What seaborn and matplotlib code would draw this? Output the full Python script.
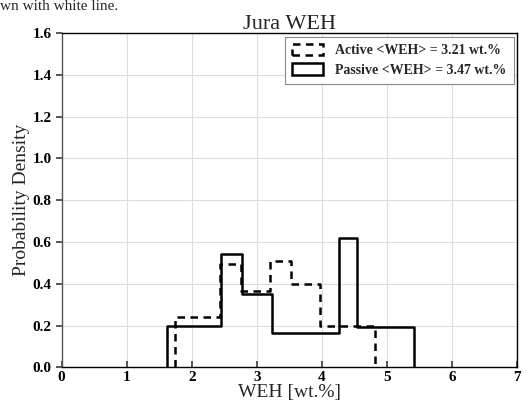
import numpy as np
import pandas as pd
import matplotlib
matplotlib.use("Agg")
import matplotlib.pyplot as plt
import seaborn as sns
from matplotlib.patches import Patch

# Bin edges and densities
active_edges = [1.745, 2.43, 2.76, 3.21, 3.53, 3.97, 4.82]
active_density = [0.242, 0.495, 0.365, 0.506, 0.399, 0.197]
passive_edges = [1.62, 2.457, 2.77, 3.23, 4.27, 4.535, 5.42]
passive_density = [0.198, 0.541, 0.350, 0.163, 0.621, 0.192]

active_label = "Active <WEH> = 3.21 wt.%"
passive_label = "Passive <WEH> = 3.47 wt.%"
title = "Jura WEH"
xlabel = "WEH [wt.%]"
ylabel = "Probability Density"
caption_fragment = "wn with white line."
xticks = [0, 1, 2, 3, 4, 5, 6, 7]
yticks = [0.0, 0.2, 0.4, 0.6, 0.8, 1.0, 1.2, 1.4, 1.6]


def make_frame(edges, dens):
    e = np.asarray(edges)
    d = np.asarray(dens)
    mids = (e[:-1] + e[1:]) / 2
    w = d * np.diff(e)
    return pd.DataFrame({"x": mids, "w": w})


def closed_bins(edges, eps=1e-6):
    # add empty zero-width bins so the outline drops to the baseline at both ends
    return [edges[0] - eps] + list(edges) + [edges[-1] + eps]


sns.set_theme(style="whitegrid")
plt.rcParams["font.family"] = ["Liberation Serif", "DejaVu Serif"]

fig = plt.figure(figsize=(5.26, 4.15), dpi=100)
ax = fig.add_axes([0.117, 0.115, 0.866, 0.805])

dfa = make_frame(active_edges, active_density)
dfp = make_frame(passive_edges, passive_density)

dash = (0, (3.0, 2.2))
sns.histplot(data=dfa, x="x", weights="w", bins=closed_bins(active_edges), stat="density",
             element="step", fill=False, color="black", linewidth=1.8,
             linestyle=dash, ax=ax)
sns.histplot(data=dfp, x="x", weights="w", bins=closed_bins(passive_edges), stat="density",
             element="step", fill=False, color="black", linewidth=1.8,
             ax=ax)

ax.set_xlim(0, 7)
ax.set_ylim(0, 1.6)
ax.set_xticks(xticks)
ax.set_yticks(yticks)
ax.set_xticklabels([str(t) for t in xticks], fontweight="bold", fontsize=11)
ax.set_yticklabels([f"{t:.1f}" for t in yticks], fontweight="bold", fontsize=11)
ax.set_xlabel(xlabel, fontsize=14, labelpad=0)
ax.set_ylabel(ylabel, fontsize=14, labelpad=2)
ax.set_title(title, fontsize=16, pad=3)

ax.grid(True, color="#dddddd", linewidth=0.8)
for s in ax.spines.values():
    s.set_visible(True)
    s.set_color("black")
    s.set_linewidth(1.0)
ax.spines["left"].set_color("#555555")
ax.tick_params(axis="x", direction="in", length=4, color="#444444", pad=3,
               bottom=True, labelcolor="black")
ax.tick_params(axis="y", direction="out", length=4, color="#444444", pad=3,
               left=True, labelcolor="black")

handles = [
    Patch(facecolor="none", edgecolor="black", linewidth=1.8, linestyle=dash),
    Patch(facecolor="none", edgecolor="black", linewidth=1.8),
]
leg = ax.legend(handles, [active_label, passive_label], loc="upper right",
                prop={"weight": "bold", "size": 10}, frameon=True, fancybox=False,
                framealpha=1, edgecolor="#888888", borderaxespad=0.25,
                handlelength=2.2, handleheight=0.9, handletextpad=0.9,
                labelspacing=0.45, borderpad=0.5)
leg.get_frame().set_linewidth(0.8)

fig.text(0.0, 1.0, caption_fragment, fontsize=11, va="top", ha="left")

fig.savefig("out.png", dpi=100)
